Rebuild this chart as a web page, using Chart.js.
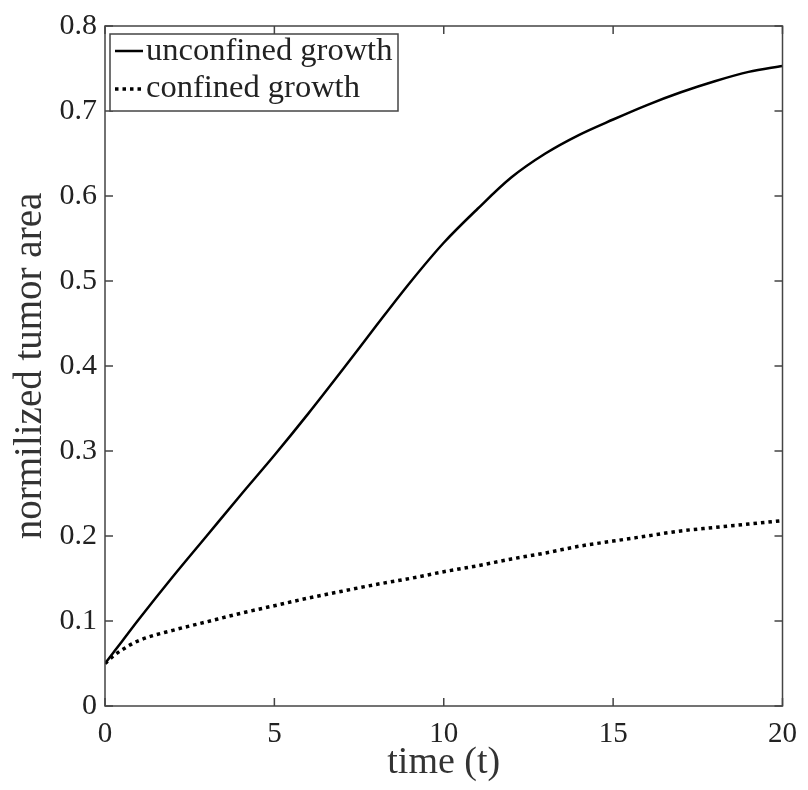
<!DOCTYPE html>
<html>
<head>
<meta charset="utf-8">
<script src="https://cdn.jsdelivr.net/npm/chart.js@4"></script>
<style>
    html, body { margin: 0; padding: 0; background: #fff; }
    #box { width: 808px; height: 790px; }
</style>
</head>
<body>
<div id="box"><canvas id="grafico"></canvas></div>
<script>
// --- Dados ---
const tempos = [0, 0.25, 0.5, 1, 2, 3, 4, 5, 6, 7, 8, 9, 10, 11, 12, 13, 14, 15, 16, 17, 18, 19, 20];
const crescimentoLivre = [0.05, 0.063, 0.076, 0.102, 0.152, 0.2, 0.248, 0.295, 0.344, 0.395, 0.447, 0.498,
    0.545, 0.585, 0.622, 0.65, 0.672, 0.69, 0.707, 0.722, 0.735, 0.746, 0.753];
const crescimentoConfinado = [0.05, 0.059, 0.066, 0.077, 0.089, 0.099, 0.109, 0.118, 0.127, 0.135, 0.143, 0.15,
    0.158, 0.165, 0.173, 0.18, 0.188, 0.194, 0.2, 0.206, 0.21, 0.214, 0.218];
const rotulosSeries = ['unconfined growth', 'confined growth'];
const ticksX = [0, 5, 10, 15, 20];
const ticksY = [0, 0.1, 0.2, 0.3, 0.4, 0.5, 0.6, 0.7, 0.8];

const fonte = '"Liberation Serif", "Times New Roman", serif';
const corTexto = '#222';
const corEixo = '#444';

const pontos = (valores) => tempos.map((t, i) => ({ x: t, y: valores[i] }));

// moldura + ticks para dentro nos 4 lados, e legenda com borda dentro da área
const moldura = {
    id: 'moldura',
    afterDatasetsDraw(chart) {
        const { ctx, chartArea: a, scales } = chart;
        const tam = 8;
        ctx.save();
        ctx.strokeStyle = corEixo;
        ctx.lineWidth = 1.5;
        ctx.strokeRect(a.left, a.top, a.right - a.left, a.bottom - a.top);
        ctx.beginPath();
        ticksX.forEach(v => {
            const px = scales.x.getPixelForValue(v);
            ctx.moveTo(px, a.bottom); ctx.lineTo(px, a.bottom - tam);
            ctx.moveTo(px, a.top); ctx.lineTo(px, a.top + tam);
        });
        ticksY.forEach(v => {
            const py = scales.y.getPixelForValue(v);
            ctx.moveTo(a.left, py); ctx.lineTo(a.left + tam, py);
            ctx.moveTo(a.right, py); ctx.lineTo(a.right - tam, py);
        });
        ctx.stroke();

        // legenda
        const x0 = a.left + 5, y0 = a.top + 8;
        ctx.fillStyle = '#fff';
        ctx.fillRect(x0, y0, 288, 77);
        ctx.strokeRect(x0, y0, 288, 77);
        chart.data.datasets.forEach((ds, i) => {
            const yLinha = y0 + 17 + i * 38;
            ctx.save();
            ctx.strokeStyle = ds.borderColor;
            ctx.lineWidth = ds.borderWidth;
            ctx.setLineDash(ds.borderDash || []);
            ctx.beginPath();
            ctx.moveTo(x0 + 5, yLinha);
            ctx.lineTo(x0 + 33, yLinha);
            ctx.stroke();
            ctx.restore();
            ctx.fillStyle = corTexto;
            ctx.font = '32.5px ' + fonte;
            ctx.textBaseline = 'alphabetic';
            ctx.fillText(ds.label, x0 + 36, y0 + 26 + i * 37);
        });
        ctx.restore();
    }
};

const ctx = document.getElementById('grafico').getContext('2d');
new Chart(ctx, {
    type: 'line',
    data: {
        datasets: [
            {
                label: rotulosSeries[0],
                data: pontos(crescimentoLivre),
                borderColor: '#000',
                borderWidth: 2.5,
                pointRadius: 0,
                cubicInterpolationMode: 'monotone'
            },
            {
                label: rotulosSeries[1],
                data: pontos(crescimentoConfinado),
                borderColor: '#000',
                borderWidth: 3.5,
                borderDash: [3.5, 4],
                pointRadius: 0,
                cubicInterpolationMode: 'monotone'
            }
        ]
    },
    options: {
        responsive: true,
        maintainAspectRatio: false,
        animation: false,
        layout: { padding: { left: 0, right: 19, top: 21, bottom: 0 } },
        plugins: {
            tooltip: { enabled: false },
            legend: { display: false }
        },
        scales: {
            x: {
                type: 'linear',
                min: 0,
                max: 20,
                afterBuildTicks: (s) => { s.ticks = ticksX.map(v => ({ value: v })); },
                afterFit: (s) => { s.height = 84; },
                grid: { display: false, drawTicks: false },
                border: { display: false },
                ticks: { color: corTexto, font: { family: fonte, size: 29 }, padding: 11 },
                title: {
                    display: true,
                    text: 'time (t)',
                    color: '#333',
                    font: { family: fonte, size: 38 },
                    padding: { top: 0, bottom: 4 }
                }
            },
            y: {
                min: 0,
                max: 0.8,
                afterBuildTicks: (s) => { s.ticks = ticksY.map(v => ({ value: v })); },
                afterFit: (s) => { s.width = 105; },
                grid: { display: false, drawTicks: false },
                border: { display: false },
                ticks: {
                    color: corTexto,
                    font: { family: fonte, size: 30 },
                    padding: 8,
                    callback: (v) => v === 0 ? '0' : v.toFixed(1)
                },
                title: {
                    display: true,
                    text: 'normilized tumor area',
                    color: '#333',
                    font: { family: fonte, size: 39 },
                    padding: { top: 7, bottom: 0 }
                }
            }
        }
    },
    plugins: [moldura]
});
</script>
</body>
</html>
